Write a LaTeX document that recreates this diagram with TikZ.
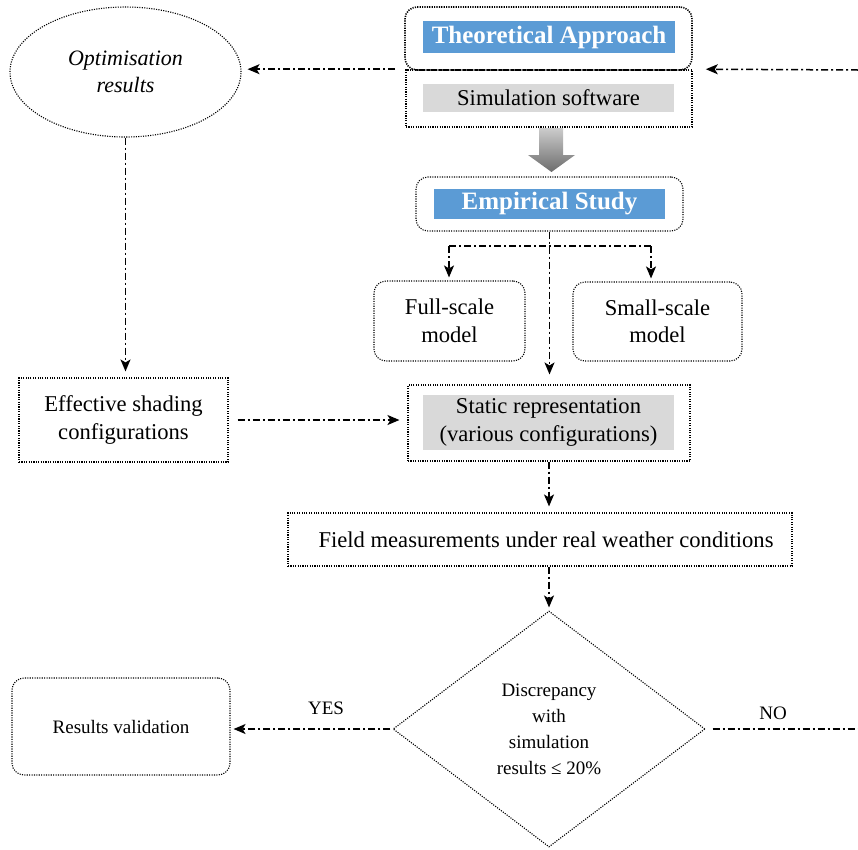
\documentclass[tikz,border=0pt]{standalone}
\usepackage{fontspec}
\setmainfont{Liberation Serif}
\usetikzlibrary{shapes.geometric,arrows.meta,calc}
\definecolor{hdrblue}{HTML}{5B9BD5}
\definecolor{boxgray}{HTML}{D9D9D9}
\tikzset{
 dotbox/.style={draw, line width=1.1pt, dash pattern=on 1.1pt off 1.3pt, inner sep=0pt},
 thickdot/.style={draw, line width=1.6pt, dash pattern=on 1.2pt off 1.2pt, inner sep=0pt},
 rbox/.style={dotbox, rounded corners=12pt},
 conn/.style={line width=1.5pt, dash pattern=on 7pt off 3pt on 2pt off 3pt},
 tip/.style={-{Stealth[length=12pt,width=10pt,inset=3pt]}},
 maintext/.style={font=\fontsize{22.6}{27.5}\selectfont, align=center},
 smalltext/.style={font=\fontsize{19}{26}\selectfont, align=center},
 hdr/.style={fill=hdrblue, text=white, font=\fontsize{25}{30}\selectfont\bfseries, inner sep=0pt},
 grayfill/.style={fill=boxgray, inner sep=0pt, maintext},
}
\begin{document}
\begin{tikzpicture}[x=1pt,y=-1pt]
\useasboundingbox (0,0) rectangle (858,849);
% top boxes
\node[thickdot, rounded corners=12pt, minimum width=287pt, minimum height=63pt] (theo) at (548.5,38.5) {};
\node[hdr, minimum width=252pt, minimum height=32pt] (theoh) at (549,37) {Theoretical Approach};
\node[thickdot, minimum width=286pt, minimum height=57pt] (sim) at (549,98.5) {};
\node[grayfill, minimum width=251pt, minimum height=28pt] (simh) at (548.5,98) {Simulation software};
% gray block arrow
\shade[top color=gray!40, bottom color=gray!85!black] (539,128) -- (563,128) -- (563,155) -- (575,155) -- (551.5,172) -- (528,155) -- (539,155) -- cycle;
% empirical
\node[rbox, minimum width=267pt, minimum height=54pt] (emp) at (549.5,204) {};
\node[hdr, minimum width=231pt, minimum height=30pt] (emph) at (549.5,204) {Empirical Study};
% models
\node[rbox, maintext, minimum width=151pt, minimum height=80pt] (full) at (449.5,321) {Full-scale\\model};
\node[rbox, maintext, minimum width=169pt, minimum height=79pt] (small) at (657.5,321.5) {Small-scale\\model};
% static
\node[dotbox, minimum width=282pt, minimum height=76pt] (stat) at (549,423) {};
\node[grayfill, minimum width=251pt, minimum height=55pt] (stath) at (548.5,422.5) {Static representation\\(various configurations)};
% left column
\node[ellipse, dotbox, minimum width=231pt, minimum height=130pt, font=\fontsize{22}{27}\selectfont\itshape, align=center] (opt) at (125.5,72) {Optimisation\\results};
\node[dotbox, maintext, minimum width=209pt, minimum height=84pt] (eff) at (123.5,420) {Effective shading\\configurations};
% field
\node[dotbox, maintext, minimum width=504pt, minimum height=53pt] (field) at (540,539.5) {\hspace*{12pt}Field measurements under real weather conditions};
% decision
\node[diamond, dotbox, aspect=1.32, minimum width=312pt, minimum height=236pt, smalltext] (dec) at (549,729) {\raisebox{-3pt}{\parbox{120pt}{\centering Discrepancy\\with\\simulation\\results ≤ 20\%}}};
\node[rbox, smalltext, minimum width=218pt, minimum height=97pt] (res) at (121,726.5) {Results validation};
\node[smalltext] (yes) at (326,708) {YES};
\node[smalltext] (no) at (773,713) {NO};
% connectors
\coordinate (rin) at (858,70);
\draw[conn,tip] (rin) -- ($(sim.north east)+(13,0)$);
\draw[conn,tip,shorten >=6pt] ($(sim.north west)+(-10,0)$) -- (sim.north west -| opt.east);
\draw[conn,tip,shorten >=6pt] (opt.south) -- (opt.south |- eff.north);
\draw[conn,tip,shorten <=9pt,shorten >=8pt] (eff.east) -- (eff.east -| stat.west);
\draw[conn,tip,shorten >=10pt] (emp.south) -- (emp.south |- stat.north);
\coordinate (bl) at (449,246);
\coordinate (br) at (651,246);
\draw[conn] (bl) -- (br);
\draw[conn,tip,shorten >=3pt] (bl) -- (bl |- full.north);
\draw[conn,tip,shorten >=3pt] (br) -- (br |- small.north);
\draw[conn,tip,shorten >=6pt] (stat.south) -- (stat.south |- field.north);
\draw[conn,tip,shorten >=3pt] (dec.north |- field.south) -- (dec.north);
\draw[conn,tip,shorten <=2pt,shorten >=3pt] (dec.west) -- (dec.west -| res.east);
\coordinate (nout) at (858,729);
\draw[conn,shorten <=7pt] (dec.east) -- (nout);
\end{tikzpicture}
\end{document}
